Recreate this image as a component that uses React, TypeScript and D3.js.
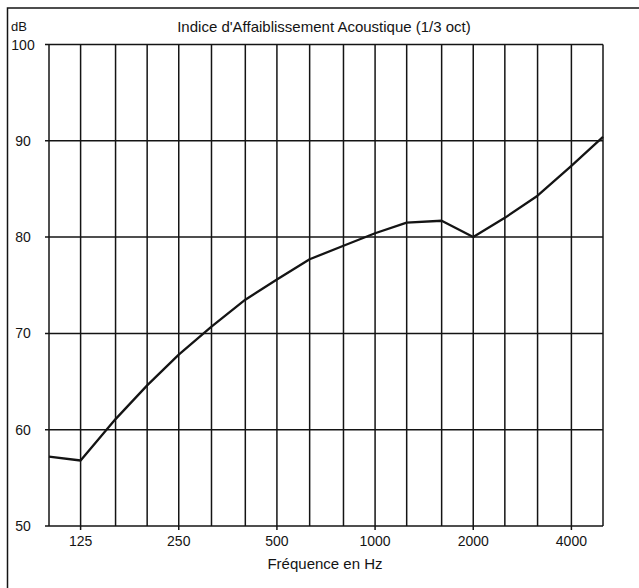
import React from "react";
import * as d3 from "d3";

// Third-octave band centre frequencies (Hz)
const bands: number[] = [100, 125, 160, 200, 250, 315, 400, 500, 630, 800, 1000, 1250, 1600, 2000, 2500, 3150, 4000, 5000];
// Sound reduction index per band (dB)
const reduction: number[] = [57.2, 56.8, 61.1, 64.6, 67.8, 70.7, 73.5, 75.6, 77.7, 79.1, 80.4, 81.5, 81.7, 80.0, 82.0, 84.3, 87.4, 90.4];
// Labelled frequencies on the x axis
const xTickLabels: number[] = [125, 250, 500, 1000, 2000, 4000];
// dB levels on the y axis
const yTicks: number[] = [50, 60, 70, 80, 90, 100];

const title = "Indice d'Affaiblissement Acoustique (1/3 oct)";
const xTitle = "Fréquence en Hz";
const yUnit = "dB";

const W = 639;
const H = 588;
const left = 49;
const right = 603;
const top = 44.5;
const bottom = 526;
const ink = "#141414";
const font = "'Liberation Sans', Arial, sans-serif";

export default function App() {
  const x = d3.scaleLog().domain([100, 5000]).range([left, right]);
  const y = d3.scaleLinear().domain([50, 100]).range([bottom, top]);
  const line = d3
    .line<number>()
    .x((_, i) => x(bands[i]))
    .y((v) => y(v));

  return (
    <svg
      width={W}
      height={H}
      style={{ position: "fixed", left: 0, top: 0, background: "#fff" }}
      fontFamily={font}
    >
      <rect x={0} y={0} width={W} height={H} fill="#fff" />
      {/* outer frame */}
      <path d={`M7.5,${H}V8H${W}`} fill="none" stroke={ink} strokeWidth={1.5} />

      {/* vertical grid, one line per band */}
      {bands.map((b) => (
        <line key={"v" + b} x1={x(b)} x2={x(b)} y1={top} y2={bottom} stroke={ink} strokeWidth={1.5} />
      ))}
      {/* horizontal grid with short ticks on the left */}
      {yTicks.map((t) => (
        <line key={"h" + t} x1={left - 4} x2={right} y1={y(t)} y2={y(t)} stroke={ink} strokeWidth={1.5} />
      ))}
      {/* bottom ticks */}
      {xTickLabels.map((t) => (
        <line key={"t" + t} x1={x(t)} x2={x(t)} y1={bottom} y2={bottom + 4} stroke={ink} strokeWidth={1.5} />
      ))}

      {/* measured curve */}
      <path d={line(reduction) ?? ""} fill="none" stroke={ink} strokeWidth={2.3} strokeLinejoin="round" />

      {/* y labels */}
      {yTicks.map((t) => (
        <text key={"yl" + t} x={23} y={y(t)} dy="0.36em" textAnchor="middle" fontSize={14} fill={ink}>
          {t}
        </text>
      ))}
      <text x={11} y={31} fontSize={13} fill={ink}>
        {yUnit}
      </text>

      {/* x labels */}
      {xTickLabels.map((t) => (
        <text key={"xl" + t} x={x(t)} y={541} dy="0.36em" textAnchor="middle" fontSize={14} fill={ink}>
          {t}
        </text>
      ))}

      <text x={324} y={32} textAnchor="middle" fontSize={15} fill={ink}>
        {title}
      </text>
      <text x={325} y={564} dy="0.36em" textAnchor="middle" fontSize={15} fill={ink}>
        {xTitle}
      </text>
    </svg>
  );
}
